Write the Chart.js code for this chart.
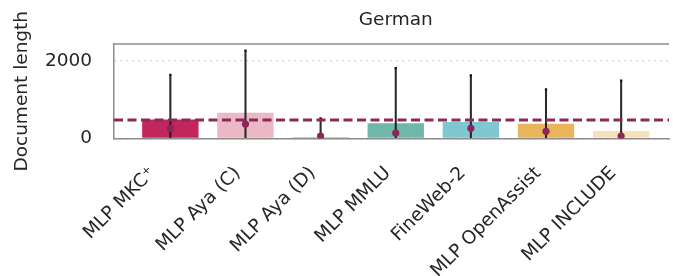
<!DOCTYPE html>
<html>
<head>
<meta charset="utf-8">
<script src="https://cdn.jsdelivr.net/npm/chart.js@4"></script>
<style>
  html, body { margin: 0; padding: 0; background: #fff; }
  #wrap { width: 673px; height: 276px; }
</style>
</head>
<body>
<div id="wrap"><canvas id="lengthChart" width="673" height="276"></canvas></div>
<script>
// data
const categories = ['MLP MKC\u207A', 'MLP Aya (C)', 'MLP Aya (D)', 'MLP MMLU', 'FineWeb-2', 'MLP OpenAssist', 'MLP INCLUDE'];
const meanLength = [490, 666, 40, 392, 426, 382, 194];
const medianLength = [263, 374, 62, 142, 263, 186, 65];
const upperLength = [1640, 2266, 521, 1819, 1630, 1270, 1492];
const overallMean = 477;
const yTickValues = [0, 2000];
const barColors = ['#c2265d', '#ebb8c5', '#a8c6c6', '#6fb8a9', '#7fc8d2', '#e8b55b', '#f7e1bb'];

const xMin = -0.75;
const xMax = 6.637;
const labelShift = -0.105;
const superShift = -0.13;   // matplotlib pushes the label with a superscript further left
const textColor = '#262626';
const frameColor = '#8c8c8c';
const fontPx = 18.5;

Chart.defaults.font.family = "'DejaVu Sans', sans-serif";
Chart.defaults.font.size = fontPx;
Chart.defaults.color = textColor;

// top frame line + title centred on the axes
const framePlugin = {
    id: 'frameTop',
    afterDraw(chart) {
        const ctx = chart.ctx;
        const area = chart.chartArea;
        ctx.save();
        ctx.strokeStyle = frameColor;
        ctx.lineWidth = 1.5;
        ctx.beginPath();
        ctx.moveTo(area.left, area.top);
        ctx.lineTo(area.right, area.top);
        ctx.stroke();

        ctx.fillStyle = textColor;
        ctx.font = fontPx + "px 'DejaVu Sans'";
        ctx.textAlign = 'center';
        ctx.textBaseline = 'middle';
        ctx.fillText('German', chart.scales.x.getPixelForValue((xMin + 6.75) / 2), 20);
        ctx.restore();
    }
};

const idx = categories.map((c, i) => i);

new Chart(document.getElementById('lengthChart'), {
    type: 'bar',
    data: {
        datasets: [
            {
                type: 'scatter',
                data: idx.map(i => ({ x: i, y: medianLength[i] })),
                pointStyle: 'circle',
                pointRadius: 3.6,
                backgroundColor: '#8e2459',
                borderWidth: 0,
                order: 1
            },
            {
                type: 'line',
                data: [{ x: xMin, y: overallMean }, { x: xMax, y: overallMean }],
                borderColor: '#8b2a57',
                borderWidth: 3,
                borderDash: [9, 4.5],
                pointRadius: 0,
                order: 2
            },
            {
                type: 'scatter',
                data: idx.map(i => ({ x: i, y: upperLength[i] })),
                pointStyle: 'rect',
                pointRadius: 1.6,
                backgroundColor: '#111',
                borderWidth: 0,
                order: 3
            },
            {
                data: idx.map(i => ({ x: i, y: [0, upperLength[i]] })),
                backgroundColor: 'rgba(20,20,20,0.9)',
                barThickness: 1.4,
                grouped: false,
                order: 4
            },
            {
                data: idx.map(i => ({ x: i, y: meanLength[i] })),
                backgroundColor: barColors,
                barPercentage: 0.75,
                categoryPercentage: 1,
                grouped: false,
                order: 5
            }
        ]
    },
    options: {
        responsive: false,
        animation: false,
        events: [],
        layout: { padding: { top: 44, left: 0, right: 0, bottom: 0 } },
        plugins: { legend: { display: false }, tooltip: { enabled: false }, title: { display: false } },
        scales: {
            x: {
                type: 'linear',
                min: xMin,
                max: xMax,
                offset: false,
                grid: { display: false, drawTicks: false },
                border: { display: true, color: frameColor, width: 1.5 },
                afterBuildTicks: s => {
                    s.ticks = idx.map(i => ({
                        value: i + labelShift + (categories[i].includes('\u207A') ? superShift : 0)
                    }));
                },
                afterFit: s => { s.height = 276 - 138.5; },
                ticks: {
                    autoSkip: false,
                    maxRotation: 45,
                    minRotation: 45,
                    padding: 24,
                    color: textColor,
                    callback: (v, i) => categories[i]
                }
            },
            y: {
                min: 0,
                max: 2440,
                grid: { color: '#cfcfcf', lineWidth: 1.5, drawTicks: false },
                border: { display: true, color: frameColor, width: 1.5, dash: [1.6, 4.4] },
                afterBuildTicks: s => { s.ticks = yTickValues.map(v => ({ value: v })); },
                afterFit: s => { s.width = 114; },
                ticks: { padding: 22, color: textColor, callback: v => String(v) },
                title: { display: true, text: 'Document length', padding: { top: 11, bottom: 0 }, color: textColor }
            }
        }
    },
    plugins: [framePlugin]
});
</script>
</body>
</html>
